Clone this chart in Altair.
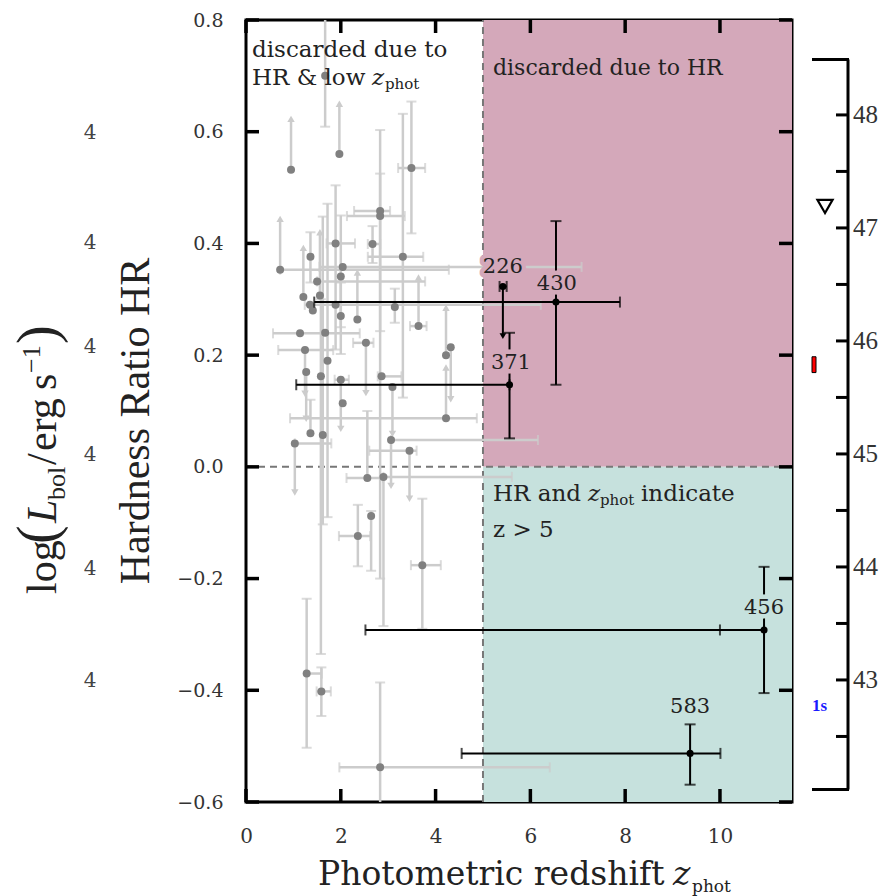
import altair as alt
import pandas as pd

# ---------------- data ----------------
X_DOMAIN = [0, 11.52]
Y_DOMAIN = [-0.6, 0.8]
L_DOMAIN = [41.92, 48.84]
x_ticks = [0, 2, 4, 6, 8, 10]
y_ticks = [-0.6, -0.4, -0.2, 0.0, 0.2, 0.4, 0.6, 0.8]

# grey (discarded) sources: value, error bounds, limit flag
g_x   = [0.95, 1.97, 1.67, 2.83, 2.83, 3.49, 3.31, 0.72, 1.36, 1.89, 2.67, 2.04, 2.00, 1.50, 1.21, 1.56, 1.35, 1.41, 1.89, 3.14, 2.00, 2.35, 3.64, 1.14, 1.67, 2.53, 4.32, 4.22, 1.245, 1.72, 1.27, 1.58, 2.00, 2.86, 3.09, 2.04, 4.22, 1.36, 1.62, 1.03, 3.06, 3.45, 2.56, 2.90, 2.64, 2.36, 3.72, 1.28, 1.59, 2.83]
g_y   = [0.532, 0.560, 0.700, 0.458, 0.449, 0.535, 0.376, 0.353, 0.376, 0.400, 0.399, 0.358, 0.341, 0.332, 0.304, 0.307, 0.290, 0.280, 0.290, 0.286, 0.270, 0.264, 0.252, 0.239, 0.240, 0.222, 0.214, 0.200, 0.209, 0.190, 0.170, 0.162, 0.156, 0.162, 0.143, 0.114, 0.087, 0.060, 0.057, 0.042, 0.048, 0.029, -0.020, -0.018, -0.088, -0.124, -0.176, -0.370, -0.402, -0.538]
g_xlo = [0.95, 1.97, 1.67, 2.28, 2.13, 3.21, 2.57, 0.72, 1.36, 1.70, 2.57, 1.55, 2.00, 1.50, 1.21, 1.56, 1.35, 1.41, 1.24, 3.14, 2.00, 2.35, 3.46, 0.57, 1.67, 2.26, 4.32, 4.22, 0.68, 1.72, 1.27, 1.58, 1.87, 2.78, 3.09, 2.04, 0.93, 1.36, 1.62, 1.03, 3.06, 2.60, 2.12, 2.90, 2.64, 1.96, 3.48, 1.28, 1.49, 1.97]
g_xhi = [0.95, 1.97, 1.67, 3.04, 3.35, 3.78, 3.74, 4.28, 1.36, 2.30, 2.83, 7.08, 2.00, 3.78, 1.21, 1.56, 1.35, 1.41, 6.22, 3.14, 2.00, 2.35, 3.81, 2.40, 1.67, 2.69, 4.32, 4.22, 1.84, 1.72, 1.27, 1.58, 2.17, 3.28, 3.09, 2.04, 4.87, 1.36, 1.62, 1.80, 6.16, 3.60, 2.89, 5.61, 2.64, 2.62, 4.11, 1.60, 1.79, 6.41]
g_ylo = [0.532, 0.560, 0.609, 0.243, -0.200, 0.418, 0.124, 0.353, 0.330, 0.210, 0.365, 0.358, 0.250, 0.332, 0.304, 0.307, 0.290, 0.280, 0.290, 0.258, 0.202, 0.264, 0.252, 0.239, 0.240, 0.132, 0.121, 0.200, 0.131, -0.090, 0.086, -0.335, 0.068, 0.162, 0.059, 0.114, 0.087, 0.060, -0.103, -0.046, -0.034, -0.057, -0.020, -0.285, -0.186, -0.178, -0.290, -0.503, -0.446, -0.750]
g_yhi = [0.623, 0.650, 0.950, 0.603, 0.525, 0.654, 0.632, 0.444, 0.420, 0.504, 0.431, 0.358, 0.450, 0.332, 0.392, 0.420, 0.290, 0.280, 0.290, 0.319, 0.330, 0.348, 0.339, 0.239, 0.240, 0.222, 0.214, 0.285, 0.209, 0.471, 0.170, 0.300, 0.156, 0.162, 0.143, 0.114, 0.178, 0.120, 0.448, 0.042, 0.048, 0.029, 0.100, -0.018, -0.079, -0.068, -0.057, -0.236, -0.359, -0.386]
g_lim = ["up", "up", "", "", "", "", "", "up", "", "", "", "", "", "", "up", "up", "", "", "", "", "", "up", "up", "", "", "down", "down", "up", "down", "", "down", "", "down", "", "down", "", "up", "", "", "down", "down", "down", "", "", "", "", "", "", "", ""]

# highlighted sources
b_name = ["226", "430", "371", "456", "583"]
b_x   = [5.42, 6.54, 5.56, 10.93, 9.37]
b_y   = [0.323, 0.295, 0.147, -0.292, -0.513]
b_xlo = [5.35, 1.44, 1.06, 2.52, 4.55]
b_xhi = [5.50, 7.89, 5.56, 10.93, 10.01]
b_ylo = [0.234, 0.147, 0.051, -0.405, -0.569]
b_yhi = [0.323, 0.440, 0.240, -0.179, -0.461]
b_lim = ["down", "", "", "", ""]
b_extra_cap_x = [10.0]
b_extra_cap_y = [-0.292]
lab_x = [5.42, 6.56, 5.59, 10.93, 9.37]
lab_y = [0.358, 0.328, 0.186, -0.252, -0.430]
lab_bg = ["#d4a8ba", "#d4a8ba", "#d4a8ba", "#c6e1dd", "#c6e1dd"]

# regions
reg_x1 = [5, 5]
reg_x2 = [11.52, 11.52]
reg_y1 = [0.0, -0.6]
reg_y2 = [0.8, 0.0]
reg_col = ["#d4a8ba", "#c6e1dd"]

# extra luminosity scale on the right
L_ticks = [42.5, 43, 43.5, 44, 44.5, 45, 45.5, 46, 46.5, 47, 47.5, 48]
L_labels = [43, 44, 45, 46, 47, 48]
L_span = [42.03, 48.49]
L_left4 = [47.84, 46.87, 45.95, 44.99, 43.98, 42.99]
L_tri = [47.19]
L_redbar = [45.72, 45.86]
L_blue = [42.77]

# ---------------- layout ----------------
W, H = 546, 782
SERIF = "DejaVu Serif"
TIMES = "Liberation Serif"
TXT = "#222222"

xs = alt.Scale(domain=X_DOMAIN, nice=False, zero=False)
ys = alt.Scale(domain=Y_DOMAIN, nice=False, zero=False)
ls = alt.Scale(domain=L_DOMAIN, nice=False, zero=False)

X_AX = alt.Axis(values=x_ticks, tickSize=0, domain=False, grid=False, labelFont=SERIF,
                labelFontSize=20, labelColor="#333333", labelPadding=24, labelFlush=False, title=None)
Y_AX = alt.Axis(values=y_ticks, format=".1f", tickSize=0, domain=False, grid=False, labelFont=SERIF,
                labelFontSize=19, labelColor="#333333", labelPadding=23, title=None)


def X(f):
    return alt.X(f, type="quantitative", scale=xs, axis=X_AX)


def Y(f):
    return alt.Y(f, type="quantitative", scale=ys, axis=Y_AX)


# grey tables
gp = pd.DataFrame({"x": g_x, "y": g_y, "xlo": g_xlo, "xhi": g_xhi, "ylo": g_ylo, "yhi": g_yhi, "lim": g_lim})
gv = gp[gp.ylo < gp.yhi]
gh = gp[gp.xlo < gp.xhi]
vcap_rows, up_rows, dn_rows = [], [], []
for r in gp.itertuples():
    if r.yhi > r.y:
        (up_rows if r.lim == "up" else vcap_rows).append({"x": r.x, "y": r.yhi})
    if r.ylo < r.y:
        (dn_rows if r.lim == "down" else vcap_rows).append({"x": r.x, "y": r.ylo})
hcap_rows = [{"x": v, "y": r.y} for r in gh.itertuples() for v in (r.xlo, r.xhi)]

bp = pd.DataFrame({"name": b_name, "x": b_x, "y": b_y, "xlo": b_xlo, "xhi": b_xhi, "ylo": b_ylo, "yhi": b_yhi, "lim": b_lim})
bv = bp[bp.ylo < bp.yhi]
bh = bp[bp.xlo < bp.xhi]
bvcap, bdn = [], []
for r in bp.itertuples():
    if r.yhi > r.y:
        bvcap.append({"x": r.x, "y": r.yhi})
    if r.ylo < r.y:
        (bdn if r.lim == "down" else bvcap).append({"x": r.x, "y": r.ylo})
bhcap = [{"x": v, "y": r.y} for r in bh.itertuples() for v in (r.xlo, r.xhi)]
bhcap += [{"x": a, "y": b} for a, b in zip(b_extra_cap_x, b_extra_cap_y)]

GREY = "#cccccc"

regions = alt.Chart(pd.DataFrame({"x1": reg_x1, "x2": reg_x2, "y1": reg_y1, "y2": reg_y2, "c": reg_col})).mark_rect().encode(
    x=X("x1"), x2="x2", y=Y("y1"), y2="y2", color=alt.Color("c:N", scale=None))

dash_v = alt.Chart(pd.DataFrame({"x": [5], "y1": [Y_DOMAIN[0]], "y2": [Y_DOMAIN[1]]})).mark_rule(
    color="#777777", strokeDash=[7, 5], strokeWidth=2).encode(x=X("x"), y=Y("y1"), y2="y2")
dash_h = alt.Chart(pd.DataFrame({"x1": [X_DOMAIN[0]], "x2": [X_DOMAIN[1]], "y": [0.0]})).mark_rule(
    color="#777777", strokeDash=[7, 5], strokeWidth=2).encode(x=X("x1"), x2="x2", y=Y("y"))

g_hbar = alt.Chart(gh).mark_rule(color=GREY, strokeWidth=2.5, clip=True).encode(x=X("xlo"), x2="xhi", y=Y("y"))
g_vbar = alt.Chart(gv).mark_rule(color=GREY, strokeWidth=2.5, clip=True).encode(x=X("x"), y=Y("ylo"), y2="yhi")
g_vcap = alt.Chart(pd.DataFrame(vcap_rows)).mark_tick(orient="horizontal", size=10, thickness=2, color=GREY, clip=True).encode(x=X("x"), y=Y("y"))
g_hcap = alt.Chart(pd.DataFrame(hcap_rows)).mark_tick(orient="vertical", size=10, thickness=2, color=GREY, clip=True).encode(x=X("x"), y=Y("y"))
g_up = alt.Chart(pd.DataFrame(up_rows)).mark_point(shape="triangle-up", filled=True, size=55, color=GREY, opacity=1, clip=True).encode(x=X("x"), y=Y("y"))
g_dn = alt.Chart(pd.DataFrame(dn_rows)).mark_point(shape="triangle-down", filled=True, size=55, color=GREY, opacity=1, clip=True).encode(x=X("x"), y=Y("y"))
g_pts = alt.Chart(gp).mark_circle(size=64, color="#808080", opacity=1).encode(x=X("x"), y=Y("y"))

b_hbar = alt.Chart(bh).mark_rule(color="black", strokeWidth=2).encode(x=X("xlo"), x2="xhi", y=Y("y"))
b_vbar = alt.Chart(bv).mark_rule(color="black", strokeWidth=2).encode(x=X("x"), y=Y("ylo"), y2="yhi")
b_vcap = alt.Chart(pd.DataFrame(bvcap)).mark_tick(orient="horizontal", size=11, thickness=2, color="black").encode(x=X("x"), y=Y("y"))
b_hcap = alt.Chart(pd.DataFrame(bhcap)).mark_tick(orient="vertical", size=11, thickness=2, color="black").encode(x=X("x"), y=Y("y"))
b_dn = alt.Chart(pd.DataFrame(bdn)).mark_point(shape="triangle-down", filled=True, size=45, color="black", opacity=1).encode(x=X("x"), y=Y("y"))
b_pts = alt.Chart(bp).mark_circle(size=50, color="black", opacity=1).encode(x=X("x"), y=Y("y"))

labs = pd.DataFrame({"t": b_name, "x": lab_x, "y": lab_y, "bg": lab_bg})
lab_halo = alt.Chart(labs).mark_text(font=SERIF, fontSize=21, strokeWidth=9, strokeJoin="round").encode(
    x=X("x"), y=Y("y"), text="t:N", color=alt.Color("bg:N", scale=None), stroke=alt.Stroke("bg:N", scale=None))
lab_txt = alt.Chart(labs).mark_text(font=SERIF, fontSize=21, color=TXT).encode(x=X("x"), y=Y("y"), text="t:N")


def txt(s, x, y, size, font=SERIF, style="normal", angle=0, align="left", baseline="alphabetic", color=TXT, weight="normal"):
    return alt.Chart(pd.DataFrame({"t": [s]})).mark_text(
        text=s, font=font, fontSize=size, fontStyle=style, angle=angle, align=align,
        baseline=baseline, color=color, fontWeight=weight).encode(x=alt.value(x), y=alt.value(y))


region_text = [
    txt("discarded due to", 6, 37, 23),
    txt("HR & low", 6, 65, 23),
    txt("z", 126, 65, 23, style="italic"),
    txt("phot", 139, 69, 15),
    txt("discarded due to HR", 247, 55, 22),
    txt("HR and", 247, 481, 23),
    txt("z", 342, 481, 23, style="italic"),
    txt("phot", 354, 485, 15),
    txt("indicate", 395, 481, 23),
    txt("z > 5", 247, 517, 23),
]

# inward ticks
tick_b = alt.Chart(pd.DataFrame({"x": x_ticks})).mark_rule(color="black", strokeWidth=3.5).encode(x=X("x"), y=alt.value(H), y2=alt.value(H - 13))
tick_t = alt.Chart(pd.DataFrame({"x": x_ticks})).mark_rule(color="black", strokeWidth=3.5).encode(x=X("x"), y=alt.value(0), y2=alt.value(13))
tick_l = alt.Chart(pd.DataFrame({"y": y_ticks})).mark_rule(color="black", strokeWidth=3.5).encode(y=Y("y"), x=alt.value(0), x2=alt.value(13))
tick_r = alt.Chart(pd.DataFrame({"y": y_ticks})).mark_rule(color="black", strokeWidth=3.5).encode(y=Y("y"), x=alt.value(W - 13), x2=alt.value(W))

axis_titles = [
    txt("Photometric redshift", 72, 865, 33),
    txt("z", 427, 865, 33, style="italic"),
    txt("phot", 446, 872, 17),
    txt("Hardness Ratio HR", -97, 401, 42, font=TIMES, angle=270, align="center", baseline="alphabetic"),
    txt("log", -190, 574, 42, font=TIMES, angle=270),
    txt("(", -190, 524, 56, font=TIMES, angle=270),
    txt("L", -190, 503, 42, font=TIMES, style="italic", angle=270),
    txt("bol", -181, 480, 26, font=TIMES, angle=270),
    txt("/", -190, 445, 42, font=TIMES, angle=270),
    txt("erg", -190, 431, 42, font=TIMES, angle=270),
    txt("s", -190, 370, 42, font=TIMES, angle=270),
    txt("\u22121", -206, 353, 26, font=TIMES, angle=270),
    txt(")", -190, 324, 56, font=TIMES, angle=270),
]

main = alt.layer(regions, dash_v, dash_h, g_hbar, g_vbar, g_vcap, g_hcap, g_up, g_dn, g_pts,
                 b_hbar, b_vbar, b_vcap, b_hcap, b_dn, b_pts, lab_halo, lab_txt,
                 *region_text, tick_b, tick_t, tick_l, tick_r, *axis_titles)

# ---------------- extra luminosity scale ----------------
def LY(f):
    return alt.Y(f, type="quantitative", scale=ls, axis=None)

l_line = alt.Chart(pd.DataFrame({"a": [L_span[0]], "b": [L_span[1]]})).mark_rule(color="black", strokeWidth=3).encode(
    x=alt.value(602), y=LY("a"), y2="b")
l_caps = alt.Chart(pd.DataFrame({"v": L_span})).mark_rule(color="black", strokeWidth=3).encode(
    y=LY("v"), x=alt.value(566), x2=alt.value(603))
l_ticks = alt.Chart(pd.DataFrame({"v": L_ticks})).mark_rule(color="black", strokeWidth=3).encode(
    y=LY("v"), x=alt.value(590), x2=alt.value(602))
l_labels = alt.Chart(pd.DataFrame({"v": L_labels})).mark_text(font=TIMES, fontSize=25, color="#333333", align="left", baseline="middle").encode(
    y=LY("v"), x=alt.value(607), text=alt.Text("v:Q", format="d"))
l_left = alt.Chart(pd.DataFrame({"v": L_left4, "t": ["4"] * len(L_left4)})).mark_text(font=SERIF, fontSize=20, color="#444444", align="center", baseline="middle").encode(
    y=LY("v"), x=alt.value(-156), text="t:N")
l_tri = alt.Chart(pd.DataFrame({"v": L_tri})).mark_point(shape="triangle-down", size=230, color="black", strokeWidth=2.2, filled=False, opacity=1).encode(
    y=LY("v"), x=alt.value(579))
l_red = alt.Chart(pd.DataFrame({"a": [L_redbar[0]], "b": [L_redbar[1]]})).mark_rect(color="red", stroke="black", strokeWidth=1).encode(
    y=LY("a"), y2="b", x=alt.value(566), x2=alt.value(570))
l_blue = alt.Chart(pd.DataFrame({"v": L_blue, "t": ["1s"]})).mark_text(font=TIMES, fontSize=17, fontWeight="bold", color="#1a1aff", align="left", baseline="middle").encode(
    y=LY("v"), x=alt.value(566), text="t:N")

extra = alt.layer(l_line, l_caps, l_ticks, l_labels, l_left, l_tri, l_red, l_blue)

chart = alt.layer(main, extra).resolve_scale(y="independent").properties(
    width=W, height=H,
    autosize=alt.AutoSizeParams(type="none"),
    padding={"left": 246, "top": 20, "right": 101, "bottom": 94},
    background="white",
).configure_view(stroke="black", strokeWidth=3)

chart.save("out.html", embed_options={"renderer": "svg", "actions": False})
